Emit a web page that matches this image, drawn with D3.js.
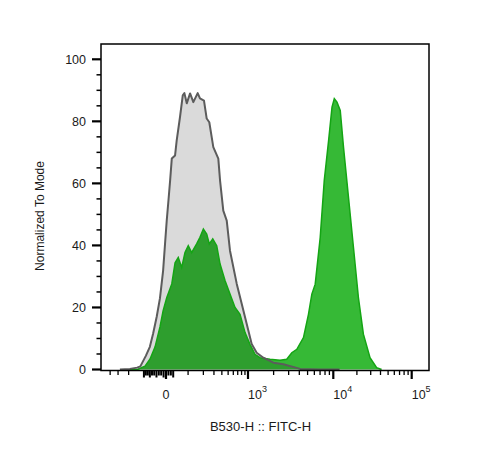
<!DOCTYPE html>
<html>
<head>
<meta charset="utf-8">
<script src="https://cdn.jsdelivr.net/npm/d3@7"></script>
<style>
  body { margin: 0; background: #fff; }
  svg text { font-family: "Liberation Sans", Arial, sans-serif; fill: #1a1a1a; }
  svg .tickLabel { font-family: "Liberation Sans Narrow", "Liberation Sans", Arial, sans-serif; font-size: 12.5px; }
</style>
</head>
<body>
<svg id="chart" width="495" height="465"></svg>
<script>
'use strict';

// unstained control (grey): channel value and % of mode
var greyValues = [-280, -190, -140, -120, -90, -70, -55, -39, -25, -12, -4, 3, 10, 17, 24, 38, 45, 60, 73, 81,
                  93, 111, 130, 158, 174, 205, 228, 252, 293, 352, 375, 421, 476, 534, 677, 804, 957, 1105,
                  1265, 1515, 1990, 2600, 4100, 7000, 12000]
,   greyPercent = [0, 0.2, 0.6, 1.0, 4.4, 7.3, 11.5, 17, 23, 31.8, 40.5, 48, 54.4, 60.9, 68, 69, 73.8, 81.4, 88.4, 89.1,
                   85.8, 89, 86.2, 89.1, 87.4, 86.7, 80.9, 79.7, 71.7, 68, 60.9, 51.2, 48, 38.3, 27.6, 21.2, 14.7, 8.2,
                   5.4, 3.8, 2.2, 1.7, 0.2, 0, 0]

// stained sample (green)
var greenValues = [-189, -134, -94, -69, -46, -25, -12, 3, 24, 38, 52, 68, 84, 101, 120, 151, 174, 200, 228, 252,
                   287, 332, 375, 449, 534, 637, 758, 903, 1055, 1208, 1384, 1815, 2377, 2850, 3265, 3740, 4475,
                   5120, 5610, 6140, 7030, 7835, 8810, 9660, 10300, 11140, 12260, 13490, 15620, 18070, 20900,
                   24200, 29400, 35700, 41300]
,   greenPercent = [0, 0.1, 1.1, 3.4, 7.3, 13.7, 18.9, 23.1, 27.6, 34.4, 36.1, 32.9, 37.7, 39.9, 37.7, 40.5, 42.6, 45.3, 43.7, 40.5,
                    42.1, 39.9, 34, 28.6, 24.3, 20, 17.8, 11.9, 8.1, 4.9, 3.8, 3.3, 3.0, 3.3, 5.4, 6.5, 10.3,
                    17.8, 24.3, 27.5, 42.6, 60.9, 73.8, 84.6, 87.3, 86.2, 83.5, 71.7, 55.5, 39.4, 23.2,
                    11.4, 3.8, 0.6, 0]

// axis ticks
var xMajorTicks = [0, 1e3, 1e4, 1e5]
,   xMajorExponents = [null, 3, 4, 5]
,   xNearZeroTicks = [-100, -90, -80, -70, -60, -50, -40, -30, -20, -10, 10, 20, 30]
,   xMinorTicks = [-400, -300, -200,
                   100, 200, 300, 400, 500, 600, 700, 800, 900,
                   2000, 3000, 4000, 5000, 6000, 7000, 8000, 9000,
                   20000, 30000, 40000, 50000, 60000, 70000, 80000, 90000]
,   yMajorTicks = [0, 20, 40, 60, 80, 100]
,   yMinorTicks = [5, 10, 15, 25, 30, 35, 45, 50, 55, 65, 70, 75, 85, 90, 95]

var plot = { left: 101, right: 429, top: 44, bottom: 370.5 }

// biexponential-ish display transform
var cofactor = 120
,   biex = (v) => Math.asinh(v / cofactor)

var x = d3.scaleLinear()
      .domain(xMajorTicks.map(biex))
      .range([166, 248, 333.3, 411.7])
,   xPos = (v) => x(biex(v))
,   y = d3.scaleLinear().domain([0, 100]).range([369.5, 59.3])

var svg = d3.select('#chart')

function toPoints(values, percent) {
  return values.map((v, i) => [v, percent[i]])
}

var area = d3.area()
  .x((d) => xPos(d[0]))
  .y0(y(0))
  .y1((d) => y(d[1]))
  .curve(d3.curveLinear)

var line = d3.line()
  .x((d) => xPos(d[0]))
  .y((d) => y(d[1]))
  .curve(d3.curveLinear)

svg.append('clipPath').attr('id', 'plotClip')
  .append('rect')
  .attr('x', plot.left).attr('y', plot.top)
  .attr('width', plot.right - plot.left).attr('height', plot.bottom - plot.top)

var layers = svg.append('g').attr('clip-path', 'url(#plotClip)')

var grey = toPoints(greyValues, greyPercent)
,   green = toPoints(greenValues, greenPercent)

layers.append('path')
  .datum(grey)
  .attr('d', area)
  .attr('fill', '#dadada')

layers.append('path')
  .datum(green)
  .attr('d', area)
  .attr('fill', '#36b936')
  .style('mix-blend-mode', 'multiply')

layers.append('path')
  .datum(green)
  .attr('d', line)
  .attr('fill', 'none')
  .attr('stroke', '#14a514')
  .attr('stroke-width', 1.5)

layers.append('path')
  .datum(grey)
  .attr('d', line)
  .attr('fill', 'none')
  .attr('stroke', '#5c5c5c')
  .attr('stroke-width', 2)
  .attr('stroke-linejoin', 'round')

// frame
svg.append('rect')
  .attr('x', plot.left).attr('y', plot.top)
  .attr('width', plot.right - plot.left).attr('height', plot.bottom - plot.top)
  .attr('fill', 'none')
  .attr('stroke', '#000')
  .attr('stroke-width', 1.5)

// y axis ticks
var yAxis = svg.append('g').attr('class', 'yAxis')

yAxis.selectAll('.minor').data(yMinorTicks).enter().append('line')
  .attr('class', 'minor')
  .attr('x1', plot.left - 4.5).attr('x2', plot.left)
  .attr('y1', (d) => y(d)).attr('y2', (d) => y(d))
  .attr('stroke', '#000').attr('stroke-width', 1.5)

yAxis.selectAll('.major').data(yMajorTicks).enter().append('line')
  .attr('class', 'major')
  .attr('x1', plot.left - 9).attr('x2', plot.left)
  .attr('y1', (d) => y(d)).attr('y2', (d) => y(d))
  .attr('stroke', '#000').attr('stroke-width', 2.2)

yAxis.selectAll('.tickLabel').data(yMajorTicks).enter().append('text')
  .attr('class', 'tickLabel')
  .attr('x', 86)
  .attr('y', (d) => y(d))
  .attr('dy', '0.36em')
  .attr('text-anchor', 'end')
  .text((d) => d)

// x axis ticks
var xAxis = svg.append('g').attr('class', 'xAxis')

xAxis.selectAll('.minor').data(xMinorTicks).enter().append('line')
  .attr('class', 'minor')
  .attr('x1', (d) => xPos(d)).attr('x2', (d) => xPos(d))
  .attr('y1', plot.bottom).attr('y2', plot.bottom + 4.5)
  .attr('stroke', '#000').attr('stroke-width', 1.3)

// dense ticks around zero render as a dark block
xAxis.selectAll('.nearZero').data(xNearZeroTicks).enter().append('line')
  .attr('class', 'nearZero')
  .attr('x1', (d) => xPos(d)).attr('x2', (d) => xPos(d))
  .attr('y1', plot.bottom).attr('y2', (d, i) => plot.bottom + (i % 3 === 0 ? 7 : 5))
  .attr('stroke', '#000').attr('stroke-width', 2)

xAxis.selectAll('.major').data(xMajorTicks).enter().append('line')
  .attr('class', 'major')
  .attr('x1', (d) => xPos(d)).attr('x2', (d) => xPos(d))
  .attr('y1', plot.bottom).attr('y2', plot.bottom + 8.5)
  .attr('stroke', '#000').attr('stroke-width', 2.2)

xMajorTicks.forEach((v, i) => {
  var exp = xMajorExponents[i]
  ,   label = xAxis.append('text').attr('class', 'tickLabel').attr('y', 399)

  if (exp === null) {
    label.attr('x', xPos(v)).attr('text-anchor', 'middle').text(v)
  } else {
    label.attr('x', xPos(v)).attr('text-anchor', 'start')
    label.append('tspan').text('10')
    label.append('tspan').attr('dy', -7).style('font-size', '9px').text(exp)
  }
})

// titles
svg.append('text')
  .attr('x', 260.5).attr('y', 431)
  .attr('text-anchor', 'middle')
  .style('font-size', '13px')
  .text('B530-H :: FITC-H')

svg.append('text')
  .attr('transform', 'translate(44,216) rotate(-90)')
  .attr('text-anchor', 'middle')
  .style('font-size', '12px')
  .text('Normalized To Mode')
</script>
</body>
</html>
